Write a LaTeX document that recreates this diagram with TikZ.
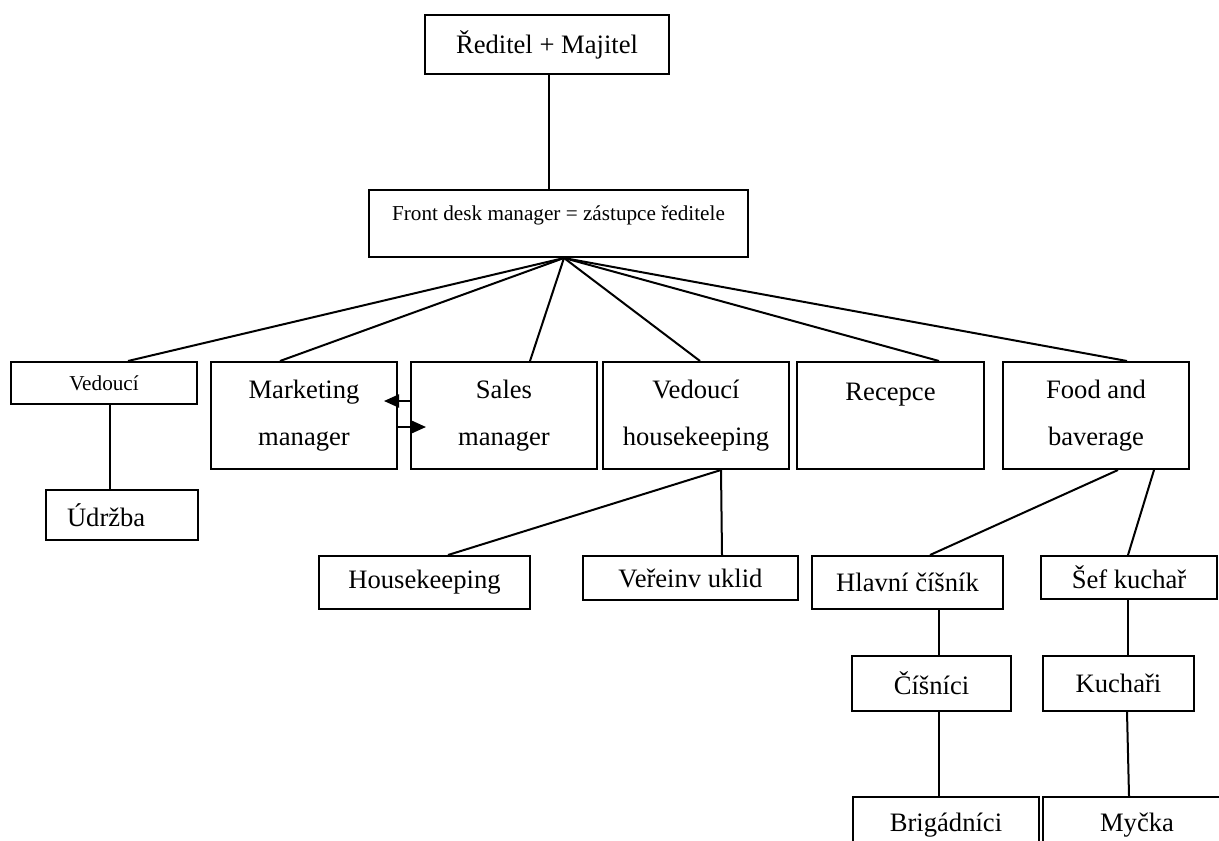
\documentclass[tikz,border=0pt]{standalone}
\usepackage{fontspec}
\setmainfont{Liberation Serif}
\usetikzlibrary{arrows.meta}
\newcommand{\boxfont}{\fontsize{13.3}{23.5}\selectfont}
\newcommand{\smallboxfont}{\fontsize{10.6}{13}\selectfont}

\begin{document}
\begin{tikzpicture}[x=0.5pt,y=-0.5pt]
\tikzset{org/.style={draw,line width=1pt,inner sep=0pt,align=center,font=\boxfont}}
\tikzset{smalltxt/.style={font=\smallboxfont}}
\tikzset{link/.style={line width=1pt}}
\tikzset{swap arrow/.style={line width=1pt,-{Triangle[length=7.5pt,width=6.5pt]}}}

\clip (0,0) rectangle (1219,840);

\node[org,minimum width=122pt,minimum height=29.5pt] (owner) at (547,44.5) {Ředitel + Majitel};
\node[org,smalltxt,minimum width=189.5pt,minimum height=33.5pt,text depth=10.8pt] (frontdesk) at (558.5,223.5) {Front desk manager = zástupce ředitele};

\node[org,smalltxt,minimum width=93pt,minimum height=21pt] (ved) at (104,383) {Vedoucí};
\node[org,minimum width=93pt,minimum height=53.5pt] (mkt) at (304,415.5) {Marketing\\manager};
\node[org,minimum width=93pt,minimum height=53.5pt] (sales) at (504,415.5) {Sales\\manager};
\node[org,minimum width=93pt,minimum height=53.5pt] (hkboss) at (696,415.5) {Vedoucí\\housekeeping};
\node[org,minimum width=93.5pt,minimum height=53.5pt] (rec) at (890.5,415.5) {Recepce\\~};
\node[org,minimum width=93pt,minimum height=53.5pt] (fnb) at (1096,415.5) {Food and\\baverage};

\node[org,align=left,text width=55pt,inner xsep=10.5pt,minimum height=25pt] (udr) at (122,515) {Údržba};
\node[org,minimum width=105.5pt,minimum height=26.5pt] (hk) at (424.5,582.5) {Housekeeping};
\node[org,minimum width=107.5pt,minimum height=22pt] (pub) at (690.5,578) {Veřeinv uklid};
\node[org,minimum width=95.5pt,minimum height=26.5pt] (waiter) at (907.5,582.5) {Hlavní číšník};
\node[org,minimum width=88pt,minimum height=21.5pt] (chef) at (1129,577.5) {Šef kuchař};
\node[org,minimum width=79.5pt,minimum height=27.5pt] (waiters) at (931.5,683.5) {Číšníci};
\node[org,minimum width=75.5pt,minimum height=27.5pt] (cooks) at (1118.5,683.5) {Kuchaři};
\node[org,minimum width=93pt,minimum height=28pt] (temps) at (946,825) {Brigádníci};
\node[org,minimum width=94pt,minimum height=28pt] (wash) at (1137,825) {Myčka};

\draw[link] ([xshift=1pt]owner.south) -- ([xshift=-4.75pt]frontdesk.north);
\coordinate (hub) at ([xshift=2.75pt]frontdesk.south);
\draw[link] (hub) -- ([xshift=12pt]ved.north);
\draw[link] (hub) -- ([xshift=-12pt]mkt.north);
\draw[link] (hub) -- ([xshift=13pt]sales.north);
\draw[link] (hub) -- ([xshift=2pt]hkboss.north);
\draw[link] (hub) -- ([xshift=24.25pt]rec.north);
\draw[link] (hub) -- ([xshift=15.5pt]fnb.north);

\draw[link] ([xshift=3pt]ved.south) -- ([xshift=-6pt]udr.north);
\draw[link] ([xshift=12.5pt]hkboss.south) -- ([xshift=11.75pt]hk.north);
\draw[link] ([xshift=12.5pt]hkboss.south) -- ([xshift=15.75pt]pub.north);
\draw[link] ([xshift=11pt]fnb.south) -- ([xshift=11.25pt]waiter.north);
\draw[link] ([xshift=29pt]fnb.south) -- ([xshift=-0.5pt]chef.north);
\draw[link] ([xshift=15.75pt]waiter.south) -- ([xshift=3.75pt]waiters.north);
\draw[link] ([xshift=-0.5pt]chef.south) -- ([xshift=4.75pt]cooks.north);
\draw[link] ([xshift=3.75pt]waiters.south) -- ([xshift=-3.5pt]temps.north);
\draw[link] ([xshift=4.25pt]cooks.south) -- ([xshift=-4pt]wash.north);

\draw[swap arrow] ([yshift=7.25pt]sales.west) -- ([xshift=-7pt,yshift=7.25pt]mkt.east);
\draw[swap arrow] ([xshift=-1pt,yshift=-5.75pt]mkt.east) -- ([xshift=8pt,yshift=-5.75pt]sales.west);

\end{tikzpicture}
\end{document}
